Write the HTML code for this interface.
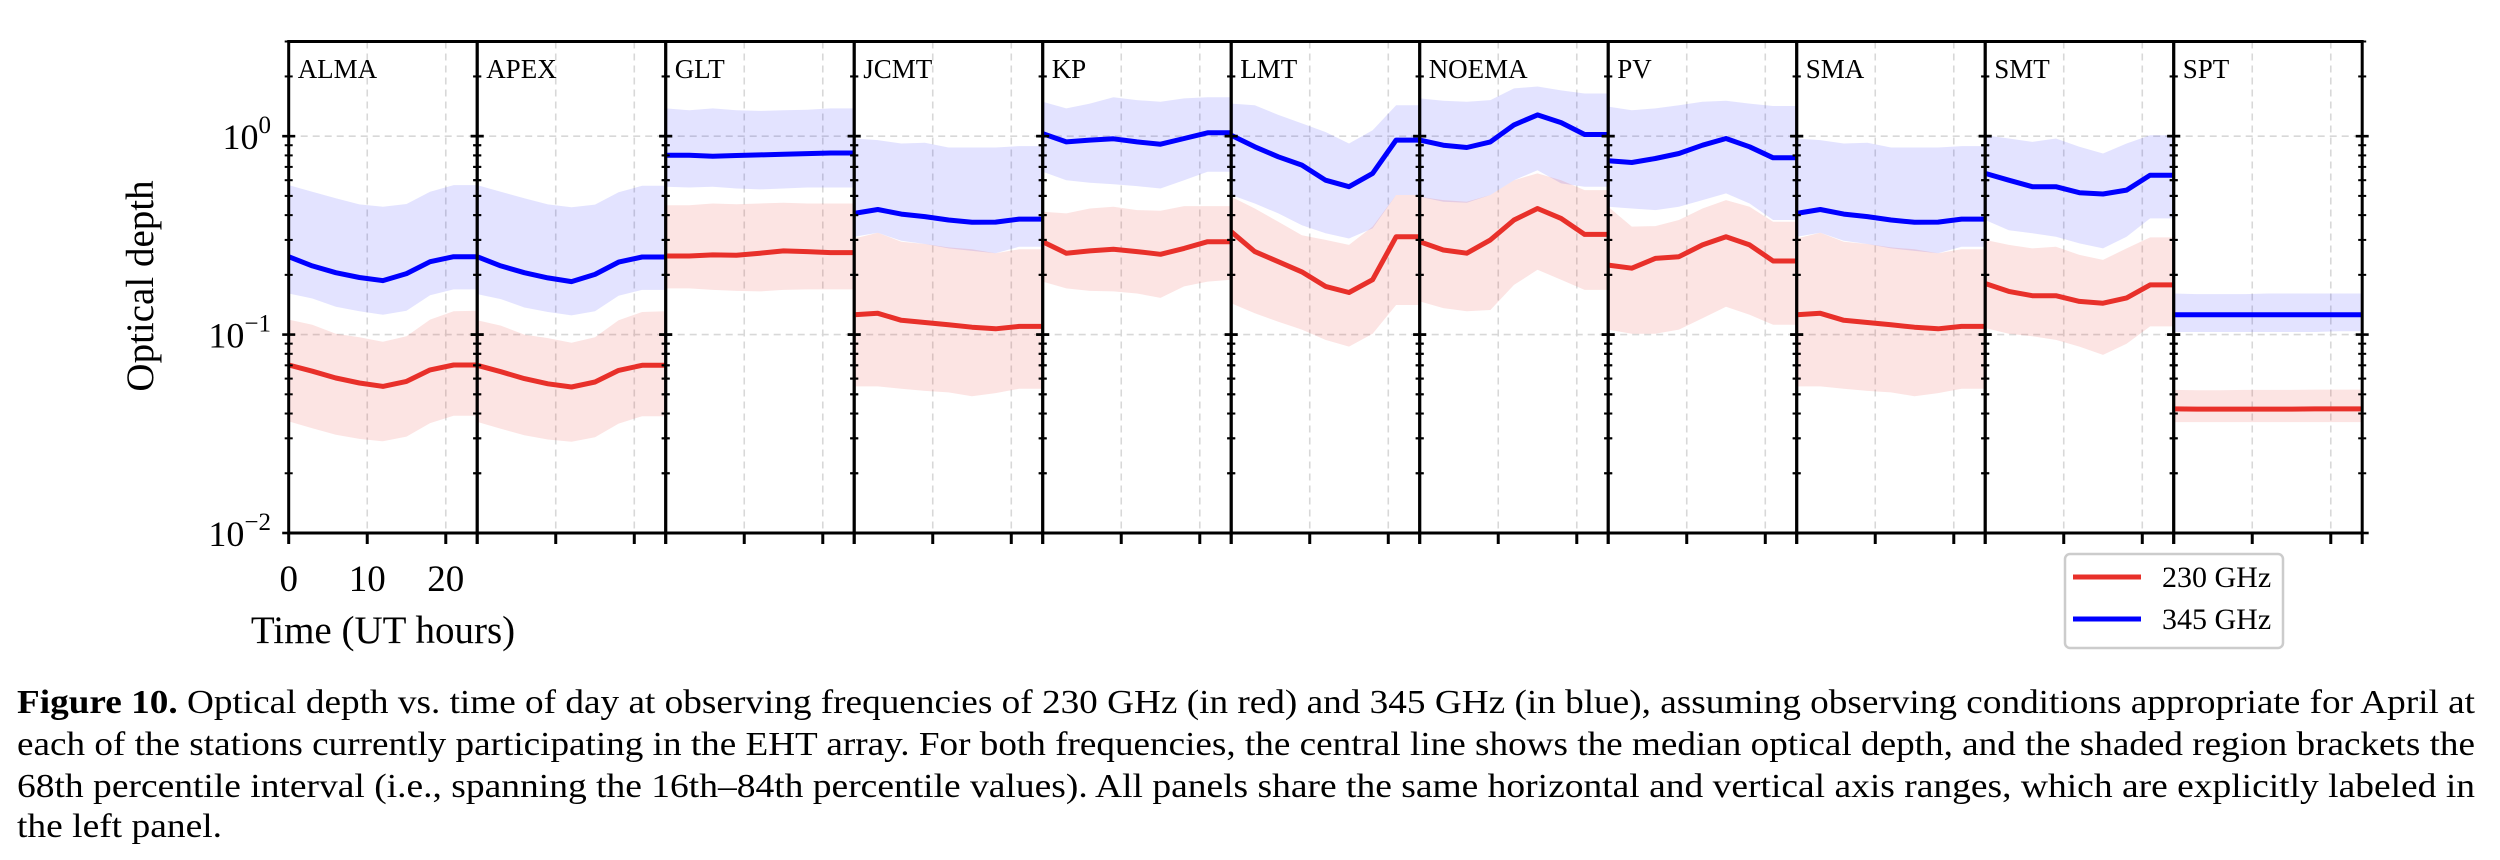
<!DOCTYPE html>
<html><head><meta charset="utf-8">
<style>
html,body{margin:0;padding:0;background:#fff;}
svg{display:block;font-family:"Liberation Serif",serif;}
</style></head>
<body>
<svg id="fig" width="2500" height="860" viewBox="0 0 2500 860" xmlns="http://www.w3.org/2000/svg">
<g id="plot"></g>
<g>
  <rect x="2065" y="554" width="218" height="94" rx="5" fill="#fff" stroke="#cccccc" stroke-width="2.5"/>
  <line x1="2073" y1="577" x2="2141" y2="577" stroke="#e8302a" stroke-width="5"/>
  <text x="2162" y="587" font-size="30">230 GHz</text>
  <line x1="2073" y1="619" x2="2141" y2="619" stroke="#0000ff" stroke-width="5"/>
  <text x="2162" y="629" font-size="30">345 GHz</text>
</g>
<g font-size="34">
  <text x="17" y="713" textLength="2458" lengthAdjust="spacingAndGlyphs"><tspan font-weight="bold">Figure 10.</tspan> Optical depth vs. time of day at observing frequencies of 230 GHz (in red) and 345 GHz (in blue), assuming observing conditions appropriate for April at</text>
  <text x="17" y="755" textLength="2458" lengthAdjust="spacingAndGlyphs">each of the stations currently participating in the EHT array. For both frequencies, the central line shows the median optical depth, and the shaded region brackets the</text>
  <text x="17" y="797" textLength="2458" lengthAdjust="spacingAndGlyphs">68th percentile interval (i.e., spanning the 16th–84th percentile values). All panels share the same horizontal and vertical axis ranges, which are explicitly labeled in</text>
  <text x="17" y="837" textLength="205" lengthAdjust="spacingAndGlyphs">the left panel.</text>
</g>
</svg>
<script>
const stations = ["ALMA","APEX","GLT","JCMT","KP","LMT","NOEMA","PV","SMA","SMT","SPT"];
const hours = [0,3,6,9,12,15,18,21,24];
const xTicks = [0,10,20];
const yTickExp = [-2,-1,0];
// 345 GHz median / 84th / 16th
const blueMed = [
 [0.247,0.222,0.205,0.194,0.187,0.203,0.233,0.247,0.247],
 [0.247,0.222,0.205,0.193,0.185,0.201,0.232,0.246,0.246],
 [0.802,0.802,0.793,0.799,0.805,0.811,0.817,0.823,0.823],
 [0.408,0.427,0.405,0.393,0.378,0.368,0.369,0.382,0.382],
 [1.03,0.936,0.955,0.970,0.936,0.911,0.973,1.04,1.04],
 [1.01,0.884,0.787,0.715,0.600,0.556,0.649,0.955,0.955],
 [0.955,0.901,0.877,0.936,1.14,1.28,1.17,1.02,1.02],
 [0.751,0.737,0.772,0.818,0.901,0.973,0.884,0.778,0.778],
 [0.408,0.427,0.405,0.393,0.378,0.368,0.369,0.382,0.382],
 [0.649,0.600,0.556,0.556,0.519,0.511,0.535,0.636,0.636],
 [0.126,0.126,0.126,0.126,0.126,0.126,0.126,0.126,0.126]];
const blueHi = [
 [0.567,0.525,0.486,0.453,0.441,0.455,0.525,0.567,0.567],
 [0.567,0.525,0.486,0.453,0.438,0.452,0.522,0.562,0.562],
 [1.38,1.35,1.38,1.35,1.34,1.35,1.36,1.38,1.38],
 [0.973,0.955,0.918,0.926,0.877,0.877,0.877,0.891,0.891],
 [1.49,1.38,1.46,1.57,1.52,1.49,1.55,1.57,1.57],
 [1.46,1.43,1.28,1.16,1.05,0.918,1.07,1.43,1.43],
 [1.55,1.51,1.49,1.52,1.74,1.78,1.70,1.64,1.64],
 [1.41,1.35,1.38,1.43,1.49,1.51,1.46,1.42,1.42],
 [0.973,0.955,0.918,0.926,0.877,0.877,0.877,0.891,0.891],
 [1.01,0.973,0.936,0.973,0.884,0.818,0.918,1.01,1.01],
 [0.161,0.160,0.160,0.160,0.161,0.161,0.161,0.161,0.161]];
const blueLo = [
 [0.161,0.152,0.138,0.131,0.126,0.132,0.158,0.169,0.169],
 [0.160,0.151,0.137,0.130,0.125,0.131,0.157,0.168,0.168],
 [0.556,0.551,0.556,0.545,0.539,0.545,0.551,0.551,0.551],
 [0.311,0.326,0.297,0.286,0.272,0.264,0.257,0.277,0.277],
 [0.662,0.600,0.582,0.573,0.560,0.545,0.600,0.662,0.662],
 [0.505,0.458,0.408,0.356,0.324,0.305,0.343,0.505,0.505],
 [0.495,0.467,0.462,0.505,0.600,0.674,0.578,0.556,0.556],
 [0.441,0.432,0.424,0.441,0.476,0.515,0.458,0.378,0.378],
 [0.311,0.326,0.297,0.286,0.272,0.264,0.257,0.277,0.277],
 [0.378,0.336,0.324,0.311,0.288,0.272,0.311,0.385,0.385],
 [0.103,0.103,0.103,0.103,0.103,0.103,0.103,0.104,0.104]];
// 230 GHz median / 84th / 16th
const redMed = [
 [0.0703,0.0654,0.0604,0.057,0.0548,0.0581,0.0664,0.0703,0.0703],
 [0.0700,0.0650,0.0600,0.0565,0.0544,0.0577,0.066,0.0700,0.0700],
 [0.249,0.249,0.252,0.251,0.257,0.264,0.262,0.259,0.259],
 [0.126,0.128,0.118,0.115,0.112,0.109,0.107,0.110,0.110],
 [0.294,0.257,0.264,0.269,0.262,0.254,0.272,0.294,0.294],
 [0.330,0.262,0.233,0.207,0.175,0.163,0.189,0.311,0.311],
 [0.294,0.267,0.257,0.300,0.378,0.432,0.385,0.320,0.320],
 [0.224,0.216,0.242,0.247,0.283,0.311,0.283,0.235,0.235],
 [0.126,0.128,0.118,0.115,0.112,0.109,0.107,0.110,0.110],
 [0.181,0.165,0.157,0.157,0.147,0.144,0.153,0.178,0.178],
 [0.0422,0.0421,0.0421,0.0421,0.0421,0.0421,0.0422,0.0422,0.0422]];
const redHi = [
 [0.119,0.112,0.101,0.097,0.092,0.098,0.119,0.131,0.132],
 [0.118,0.111,0.100,0.096,0.091,0.097,0.118,0.130,0.131],
 [0.449,0.449,0.458,0.454,0.458,0.462,0.458,0.458,0.458],
 [0.305,0.326,0.294,0.286,0.275,0.269,0.257,0.269,0.269],
 [0.416,0.408,0.432,0.441,0.424,0.421,0.444,0.444,0.444],
 [0.495,0.432,0.370,0.317,0.300,0.283,0.350,0.505,0.505],
 [0.495,0.476,0.467,0.505,0.600,0.649,0.600,0.535,0.535],
 [0.441,0.350,0.352,0.378,0.432,0.476,0.441,0.370,0.370],
 [0.305,0.326,0.294,0.286,0.275,0.269,0.257,0.269,0.269],
 [0.300,0.283,0.272,0.277,0.252,0.238,0.272,0.309,0.309],
 [0.0526,0.0524,0.0524,0.0526,0.0526,0.0526,0.0528,0.0528,0.0528]];
const redLo = [
 [0.0365,0.0337,0.0313,0.0298,0.029,0.0306,0.0358,0.039,0.039],
 [0.0363,0.0335,0.0311,0.0296,0.0288,0.0304,0.0356,0.0388,0.0388],
 [0.171,0.171,0.168,0.166,0.165,0.168,0.169,0.169,0.169],
 [0.0548,0.0548,0.0533,0.052,0.0511,0.0489,0.0507,0.0533,0.0533],
 [0.185,0.171,0.166,0.165,0.161,0.153,0.175,0.185,0.189],
 [0.144,0.128,0.116,0.106,0.094,0.087,0.101,0.141,0.141],
 [0.147,0.136,0.131,0.133,0.178,0.212,0.189,0.168,0.168],
 [0.106,0.101,0.101,0.106,0.121,0.138,0.126,0.112,0.112],
 [0.0548,0.0548,0.0533,0.052,0.0511,0.0489,0.0507,0.0533,0.0533],
 [0.108,0.101,0.098,0.094,0.087,0.079,0.090,0.110,0.110],
 [0.0362,0.0362,0.0362,0.0362,0.0362,0.0362,0.0362,0.0362,0.0362]];

const NS = "http://www.w3.org/2000/svg";
const plot = document.getElementById("plot");
const X0 = 288.7, PW = 188.5, YB = 533, YT = 41.5, YMIN = 0.01, YMAX = 3;
function xScale(i, h){ return X0 + i*PW + h/24*PW; }
function yScale(v){ return YB - (Math.log10(v)-Math.log10(YMIN))/(Math.log10(YMAX)-Math.log10(YMIN))*(YB-YT); }
function mk(tag, attrs, parent){
  const e = document.createElementNS(NS, tag);
  for (const k in attrs) e.setAttribute(k, attrs[k]);
  (parent||plot).appendChild(e);
  return e;
}
function linePts(i, arr){ return arr.map((v,j)=>xScale(i,hours[j]).toFixed(1)+","+yScale(v).toFixed(1)).join(" "); }
function bandPts(i, hi, lo){
  const a = hi.map((v,j)=>xScale(i,hours[j]).toFixed(1)+","+yScale(v).toFixed(1));
  const b = lo.map((v,j)=>xScale(i,hours[j]).toFixed(1)+","+yScale(v).toFixed(1)).reverse();
  return a.concat(b).join(" ");
}

stations.forEach((name, i) => {
  const g = mk("g", {});
  
  
  const L = X0 + i*PW, R = L + PW;
  xTicks.forEach(t => {
    const gl = mk("line", {x1:xScale(i,t), x2:xScale(i,t), y1:YT, y2:YB, stroke:"#d8d8d8", "stroke-width":1.6, "stroke-dasharray":"7,5"}, g);
    
    
  });
  yTickExp.forEach(e => {
    if (e === -2) return;
    const gl = mk("line", {x1:L, x2:R, y1:yScale(Math.pow(10,e)), y2:yScale(Math.pow(10,e)), stroke:"#d8d8d8", "stroke-width":1.6, "stroke-dasharray":"7,5"}, g);
    
    
  });
  const bb = mk("polygon", {points:bandPts(i, blueHi[i], blueLo[i]), fill:"#0000ff", "fill-opacity":0.11}, g);
  
  
  const rb = mk("polygon", {points:bandPts(i, redHi[i], redLo[i]), fill:"#e8302a", "fill-opacity":0.13}, g);
  
  
  const rl = mk("polyline", {points:linePts(i, redMed[i]), fill:"none", stroke:"#e8302a", "stroke-width":5, "stroke-linejoin":"round"}, g);
  
  
  const bl = mk("polyline", {points:linePts(i, blueMed[i]), fill:"none", stroke:"#0000ff", "stroke-width":5, "stroke-linejoin":"round"}, g);
  
  
  [L, R].forEach(sx => {
    for (let e = -2; e <= 0; e++) {
      for (let m = 1; m <= 9; m++) {
        const v = m*Math.pow(10,e);
        if (v > YMAX + 1e-9) break;
        const y = yScale(v);
        const len = m === 1 ? 6.5 : 4;
        const tk = mk("line", {x1:sx-len, x2:sx+len, y1:y, y2:y, stroke:"#000", "stroke-width":m===1?2.6:2}, g);
        
        
      }
    }
  });
  xTicks.concat([24]).forEach(t => {
    const tk = mk("line", {x1:xScale(i,t), x2:xScale(i,t), y1:YB, y2:YB+11, stroke:"#000", "stroke-width":3}, g);
    
    
  });
  const fr = mk("rect", {x:L, y:YT, width:PW, height:YB-YT, fill:"none", stroke:"#000", "stroke-width":3}, g);
  
  
  const lb = mk("text", {x:L+9, y:78, "font-size":27}, g);
  lb.textContent = name;
  
  
});

yTickExp.forEach(e => {
  const t = mk("text", {x:271, y:yScale(Math.pow(10,e))+13, "font-size":36, "text-anchor":"end"});
  
  
  const base = document.createElementNS(NS, "tspan");
  base.textContent = "10";
  t.appendChild(base);
  const sup = document.createElementNS(NS, "tspan");
  sup.setAttribute("dy", "-16");
  sup.setAttribute("font-size", "25");
  sup.textContent = e === 0 ? "0" : "\u2212" + (-e);
  t.appendChild(sup);
});
xTicks.forEach(tv => {
  const t = mk("text", {x:xScale(0,tv), y:591, "font-size":37, "text-anchor":"middle"});
  t.textContent = String(tv);
  
  
});
const xt = mk("text", {x:383, y:643, "font-size":39, "text-anchor":"middle"});
xt.textContent = "Time (UT hours)";


const yt = mk("text", {x:0, y:0, "font-size":39, "text-anchor":"middle", transform:"translate(153,286) rotate(-90)"});
yt.textContent = "Optical depth";


</script>
</body></html>
